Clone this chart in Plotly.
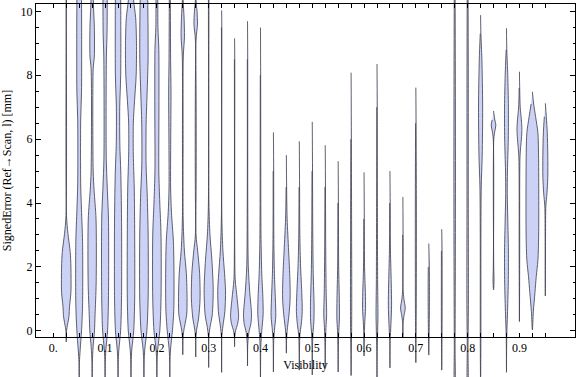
import plotly.graph_objects as go

# ---------------- data ----------------
visibility = [0.025, 0.05, 0.075, 0.1, 0.125, 0.15, 0.175, 0.2, 0.225, 0.25,
              0.275, 0.3, 0.325, 0.35, 0.375, 0.4, 0.425, 0.45, 0.475, 0.5,
              0.525, 0.55, 0.575, 0.6, 0.625, 0.65, 0.675, 0.7, 0.725, 0.75,
              0.775, 0.8, 0.825, 0.85, 0.875, 0.9, 0.925, 0.95]

# smoothed density outline of each violin: (signed error [mm], relative half width)
profiles = [
    [(11.0, 0.03), (3.6, 0.04), (3.05, 0.26), (2.45, 0.62), (2.0, 0.72), (1.2, 0.72), (0.75, 0.5), (0.45, 0.42), (0.1, 0.12), (0.0, 0.05), (-0.35, 0.0)],
    [(11.5, 0.3), (10.35, 0.36), (7.5, 0.36), (6.6, 0.23), (4.6, 0.23), (3.8, 0.35), (2.8, 0.52), (0.8, 0.52), (0.0, 0.36), (-0.6, 0.15), (-1.0, 0.03), (-1.7, 0.0)],
    [(11.0, 0.15), (10.2, 0.2), (9.5, 0.34), (8.6, 0.34), (8.2, 0.16), (5.0, 0.16), (4.4, 0.3), (3.5, 0.6), (1.5, 0.62), (0.5, 0.45), (0.0, 0.36), (-0.5, 0.15), (-1.0, 0.03), (-1.7, 0.0)],
    [(11.0, 0.3), (10.35, 0.33), (9.3, 0.3), (8.6, 0.2), (5.4, 0.18), (4.5, 0.33), (3.5, 0.52), (1.0, 0.52), (0.0, 0.38), (-0.6, 0.12), (-1.0, 0.03), (-1.7, 0.0)],
    [(11.0, 0.35), (10.35, 0.41), (8.0, 0.41), (7.0, 0.26), (5.8, 0.28), (5.0, 0.42), (3.5, 0.54), (1.0, 0.54), (0.0, 0.4), (-0.6, 0.12), (-1.0, 0.03), (-1.7, 0.0)],
    [(11.0, 0.2), (10.35, 0.4), (9.8, 0.72), (9.0, 0.85), (8.0, 0.8), (7.2, 0.55), (6.5, 0.36), (5.5, 0.36), (4.5, 0.5), (3.0, 0.57), (1.0, 0.57), (0.0, 0.42), (-0.6, 0.12), (-1.0, 0.03), (-1.7, 0.0)],
    [(11.0, 0.45), (10.35, 0.58), (8.5, 0.64), (7.5, 0.5), (6.5, 0.34), (5.2, 0.33), (4.3, 0.5), (3.0, 0.65), (1.0, 0.65), (0.0, 0.45), (-0.6, 0.12), (-1.0, 0.03), (-1.7, 0.0)],
    [(11.0, 0.12), (10.35, 0.14), (9.5, 0.16), (8.8, 0.3), (7.0, 0.32), (5.0, 0.3), (4.0, 0.45), (3.0, 0.64), (1.0, 0.64), (0.0, 0.45), (-0.6, 0.12), (-1.0, 0.03), (-1.7, 0.0)],
    [(11.0, 0.06), (10.35, 0.08), (8.5, 0.12), (7.5, 0.18), (6.0, 0.14), (4.5, 0.12), (3.7, 0.25), (2.8, 0.55), (1.5, 0.65), (0.6, 0.6), (0.0, 0.4), (-0.6, 0.1), (-1.0, 0.02), (-1.5, 0.0)],
    [(11.0, 0.05), (10.35, 0.06), (9.8, 0.2), (9.2, 0.26), (8.6, 0.08), (6.0, 0.05), (3.5, 0.06), (2.5, 0.25), (1.8, 0.55), (1.0, 0.66), (0.5, 0.6), (0.0, 0.15), (-0.3, 0.03), (-0.75, 0.0)],
    [(11.0, 0.04), (10.35, 0.05), (10.0, 0.2), (9.6, 0.27), (9.1, 0.05), (3.0, 0.05), (2.5, 0.3), (1.8, 0.6), (1.0, 0.67), (0.4, 0.45), (0.0, 0.12), (-0.3, 0.02), (-0.82, 0.0)],
    [(11.0, 0.03), (10.35, 0.04), (4.0, 0.04), (3.0, 0.2), (2.2, 0.5), (1.3, 0.7), (0.5, 0.55), (0.1, 0.2), (-0.2, 0.03), (-1.15, 0.0)],
    [(10.03, 0.0), (9.5, 0.03), (3.5, 0.04), (2.5, 0.2), (1.8, 0.45), (1.25, 0.6), (0.6, 0.5), (0.15, 0.2), (-0.2, 0.03), (-1.3, 0.0)],
    [(9.15, 0.0), (8.5, 0.03), (2.5, 0.03), (1.6, 0.1), (1.0, 0.4), (0.45, 0.62), (0.2, 0.45), (0.0, 0.15), (-0.2, 0.03), (-0.5, 0.0)],
    [(9.69, 0.0), (8.5, 0.03), (4.0, 0.04), (2.0, 0.12), (1.2, 0.35), (0.5, 0.62), (0.2, 0.5), (0.0, 0.25), (-0.4, 0.04), (-1.1, 0.0)],
    [(9.49, 0.0), (8.0, 0.03), (5.0, 0.05), (3.0, 0.08), (1.8, 0.2), (1.0, 0.38), (0.5, 0.41), (0.0, 0.2), (-0.5, 0.05), (-1.7, 0.0)],
    [(6.21, 0.0), (5.0, 0.04), (3.0, 0.06), (1.8, 0.15), (1.0, 0.3), (0.45, 0.36), (0.1, 0.2), (-0.3, 0.05), (-1.29, 0.0)],
    [(5.5, 0.0), (4.5, 0.04), (3.5, 0.12), (2.5, 0.35), (1.6, 0.55), (1.0, 0.58), (0.5, 0.4), (0.0, 0.12), (-0.3, 0.03), (-0.7, 0.0)],
    [(5.93, 0.0), (4.5, 0.04), (3.0, 0.08), (2.0, 0.2), (1.2, 0.38), (0.6, 0.45), (0.2, 0.3), (-0.1, 0.1), (-0.6, 0.03), (-1.23, 0.0)],
    [(6.54, 0.0), (5.0, 0.04), (3.0, 0.08), (1.8, 0.15), (0.8, 0.28), (0.3, 0.25), (-0.1, 0.1), (-0.6, 0.03), (-1.38, 0.0)],
    [(5.81, 0.0), (4.5, 0.04), (2.5, 0.08), (1.2, 0.15), (0.5, 0.22), (0.1, 0.12), (-0.5, 0.03), (-1.13, 0.0)],
    [(5.31, 0.0), (4.0, 0.04), (2.0, 0.08), (1.0, 0.18), (0.4, 0.2), (0.0, 0.1), (-0.6, 0.03), (-1.29, 0.0)],
    [(8.08, 0.0), (6.0, 0.04), (3.0, 0.08), (1.0, 0.1), (0.0, 0.08), (-0.7, 0.03), (-1.4, 0.0)],
    [(4.96, 0.0), (3.5, 0.04), (2.0, 0.08), (1.2, 0.2), (0.7, 0.23), (0.3, 0.12), (0.0, 0.05), (-0.79, 0.0)],
    [(8.35, 0.0), (7.0, 0.04), (4.0, 0.06), (1.5, 0.1), (0.5, 0.15), (0.0, 0.1), (-0.6, 0.04), (-1.7, 0.0)],
    [(5.0, 0.0), (4.0, 0.04), (2.5, 0.08), (1.5, 0.2), (0.8, 0.25), (0.2, 0.15), (-0.3, 0.04), (-1.16, 0.0)],
    [(4.19, 0.0), (3.0, 0.03), (1.3, 0.03), (1.0, 0.15), (0.71, 0.36), (0.45, 0.15), (0.2, 0.03), (-0.2, 0.0)],
    [(7.61, 0.0), (6.5, 0.04), (4.0, 0.08), (2.0, 0.08), (0.5, 0.06), (-1.0, 0.0)],
    [(2.73, 0.0), (2.0, 0.08), (1.0, 0.1), (0.0, 0.06), (-0.76, 0.0)],
    [(3.18, 0.0), (2.5, 0.05), (1.0, 0.06), (0.0, 0.05), (-1.23, 0.0)],
    [(11.0, 0.06), (8.0, 0.1), (5.0, 0.12), (2.0, 0.1), (-0.5, 0.06), (-1.7, 0.03)],
    [(11.0, 0.06), (8.0, 0.1), (4.0, 0.1), (1.0, 0.12), (-0.5, 0.06), (-1.7, 0.03)],
    [(9.88, 0.0), (9.3, 0.05), (8.5, 0.2), (7.0, 0.32), (5.5, 0.25), (4.5, 0.1), (3.0, 0.05), (0.0, 0.05), (-1.0, 0.03), (-1.7, 0.0)],
    [(6.88, 0.0), (6.6, 0.2), (6.44, 0.36), (6.25, 0.2), (6.0, 0.04), (2.0, 0.03), (1.6, 0.08), (1.4, 0.05), (1.28, 0.0)],
    [(9.47, 0.0), (8.8, 0.05), (8.0, 0.2), (7.0, 0.3), (6.0, 0.28), (5.0, 0.15), (4.3, 0.12), (3.5, 0.2), (2.5, 0.3), (1.5, 0.28), (0.5, 0.15), (-0.1, 0.05), (-0.5, 0.02), (-1.3, 0.0)],
    [(8.11, 0.0), (7.6, 0.04), (7.0, 0.12), (6.6, 0.3), (6.3, 0.38), (6.0, 0.3), (5.5, 0.1), (4.5, 0.04), (2.5, 0.04), (0.29, 0.0)],
    [(7.48, 0.0), (7.1, 0.2), (6.7, 0.5), (6.2, 0.85), (5.5, 0.95), (3.0, 0.97), (2.2, 0.85), (1.7, 0.6), (1.2, 0.4), (0.6, 0.15), (0.03, 0.0)],
    [(7.12, 0.0), (6.7, 0.15), (6.2, 0.3), (5.5, 0.38), (4.8, 0.38), (4.3, 0.25), (3.9, 0.08), (3.0, 0.03), (1.09, 0.0)],
]

x_tick_vals = [0.0, 0.025, 0.05, 0.075, 0.1, 0.125, 0.15, 0.175, 0.2, 0.225, 0.25,
               0.275, 0.3, 0.325, 0.35, 0.375, 0.4, 0.425, 0.45, 0.475, 0.5,
               0.525, 0.55, 0.575, 0.6, 0.625, 0.65, 0.675, 0.7, 0.725, 0.75,
               0.775, 0.8, 0.825, 0.85, 0.875, 0.9, 0.925, 0.95]
x_tick_text = ["0.", "", "", "", "0.1", "", "", "", "0.2", "", "", "", "0.3", "", "", "",
               "0.4", "", "", "", "0.5", "", "", "", "0.6", "", "", "", "0.7", "", "", "",
               "0.8", "", "", "", "0.9", "", ""]
y_tick_vals = [0, 2, 4, 6, 8, 10]
y_tick_text = ["0", "2", "4", "6", "8", "10"]

x_title = "Visibility"
y_title = "SignedError (Ref\u2192Scan, l) [mm]"

# ---------------- style ----------------
HALF = 0.0125           # half of the slot width (x units)
FILL = "rgb(204,210,245)"
EDGE = "rgba(60,60,75,0.8)"
FONT = "Liberation Serif"
W, H = 576, 377
PX_PER_MM = 31.95
Y0_PX = 330.8           # pixel row of value 0
FRAME_TOP, FRAME_BOT = 4, 337

fig = go.Figure()
for c, prof in zip(visibility, profiles):
    right_x = [c + w * HALF for _, w in prof]
    right_y = [v for v, _ in prof]
    left = list(reversed(prof))
    if left[0][1] == 0:
        left = left[1:]
    if left and left[-1][1] == 0:
        left = left[:-1]
    xs = right_x + [c - w * HALF for _, w in left]
    ys = right_y + [v for v, _ in left]
    fig.add_trace(go.Scatter(
        x=xs, y=ys, mode="lines", fill="toself", fillcolor=FILL,
        line=dict(color=EDGE, width=1, shape="spline", smoothing=0.8),
        xaxis="x", yaxis="y", showlegend=False, hoverinfo="skip"))

# empty trace that registers the framed subplot (x, y2)
fig.add_trace(go.Scatter(x=[], y=[], mode="lines", xaxis="x", yaxis="y2",
                         showlegend=False, hoverinfo="skip"))

y_full = [-(H - Y0_PX) / PX_PER_MM, Y0_PX / PX_PER_MM]
y_frame = [(Y0_PX - FRAME_BOT) / PX_PER_MM, (Y0_PX - FRAME_TOP) / PX_PER_MM]

fig.update_layout(
    template="none",
    width=W, height=H,
    margin=dict(l=36, r=1, t=0, b=0, pad=0),
    paper_bgcolor="white", plot_bgcolor="rgba(0,0,0,0)",
    font=dict(family=FONT, size=12, color="black"),
    showlegend=False,
    xaxis=dict(
        domain=[0, 1], range=[-0.0334, 1.0073], anchor="y2", automargin=False,
        showgrid=False, zeroline=False,
        showline=True, linecolor="black", linewidth=1, mirror="ticks",
        ticks="inside", ticklen=4, tickcolor="black", tickwidth=1,
        tickmode="array", tickvals=x_tick_vals, ticktext=x_tick_text,
        tickfont=dict(family=FONT, size=12, color="black"),
        title=dict(text=x_title, font=dict(family=FONT, size=12), standoff=6),
    ),
    yaxis=dict(
        domain=[0, 1], range=y_full, anchor="x", visible=False, automargin=False,
        showgrid=False, zeroline=False,
    ),
    yaxis2=dict(
        domain=[(H - FRAME_BOT) / H, (H - FRAME_TOP) / H], range=y_frame, anchor="x",
        automargin=False,
        showgrid=False, zeroline=False,
        showline=True, linecolor="black", linewidth=1, mirror="ticks",
        ticks="inside", ticklen=5, tickcolor="black", tickwidth=1,
        tickmode="array", tickvals=y_tick_vals, ticktext=y_tick_text,
        minor=dict(dtick=0.5, tick0=0, ticks="inside", ticklen=2.5, tickcolor="black", showgrid=False),
        tickfont=dict(family=FONT, size=12, color="black"),
        title=dict(text=y_title, font=dict(family=FONT, size=12), standoff=6),
    ),
)

fig.write_html("out.html")
